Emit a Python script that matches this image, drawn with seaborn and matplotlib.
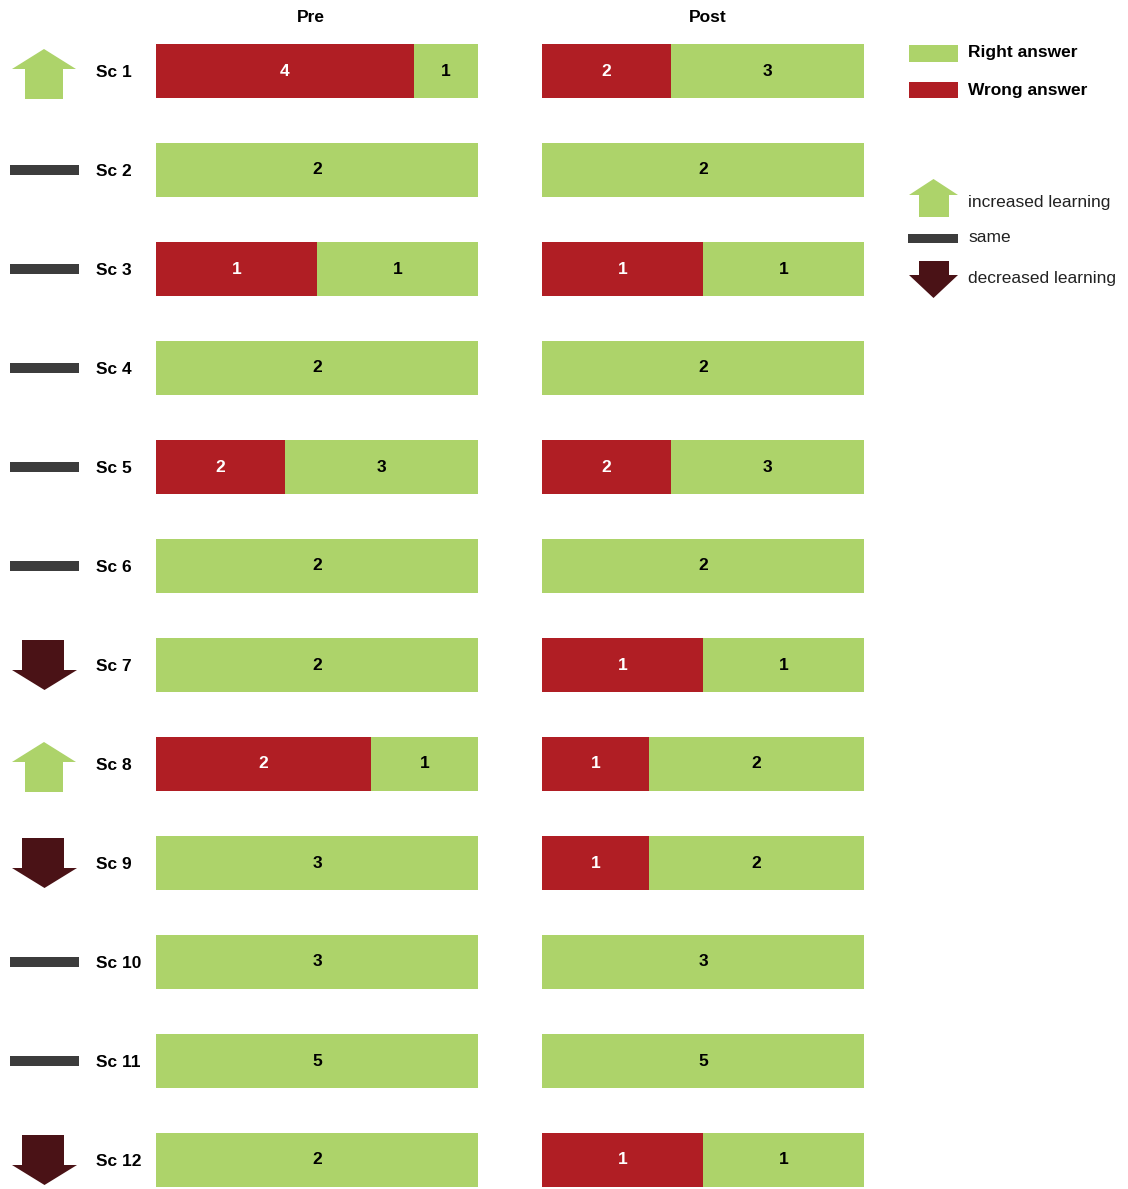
import matplotlib
matplotlib.use("Agg")
import matplotlib.pyplot as plt
from matplotlib.patches import Polygon, Rectangle
import seaborn as sns
import pandas as pd

# ---- data ----
scenarios = ["Sc 1", "Sc 2", "Sc 3", "Sc 4", "Sc 5", "Sc 6",
             "Sc 7", "Sc 8", "Sc 9", "Sc 10", "Sc 11", "Sc 12"]
pre_wrong = [4, 0, 1, 0, 2, 0, 0, 2, 0, 0, 0, 0]
pre_right = [1, 2, 1, 2, 3, 2, 2, 1, 3, 3, 5, 2]
post_wrong = [2, 0, 1, 0, 2, 0, 1, 1, 1, 0, 0, 1]
post_right = [3, 2, 1, 2, 3, 2, 1, 2, 2, 3, 5, 1]
trend = ["up", "same", "same", "same", "same", "same",
         "down", "up", "down", "same", "same", "down"]
panel_titles = ["Pre", "Post"]
legend_answer = ["Right answer", "Wrong answer"]
legend_trend = ["increased learning", "same", "decreased learning"]

# ---- style ----
GREEN = "#ADD36A"
RED = "#B01E24"
DARK = "#4A1216"
GRAY = "#3C3C3C"
W, H = 1128, 1189

sns.set_theme(style="white")
plt.rcParams["font.family"] = ["Liberation Sans", "DejaVu Sans"]
plt.rcParams["text.color"] = "black"
plt.rcParams["ytick.color"] = "black"
plt.rcParams["ytick.labelcolor"] = "black"
FS = 12.5

fig = plt.figure(figsize=(W / 100, H / 100), dpi=100)
fig.patch.set_facecolor("white")

# y range so that row i sits at pixel 71 + 99 i
YLIM = (11 + (H - 1160) / 99, -71 / 99)


def panel(left_px, wrong, right, show_labels):
    ax = fig.add_axes([left_px / W, 0, 322 / W, 1])
    df = pd.DataFrame({"scenario": scenarios, "wrong": wrong, "right": right})
    df["total"] = df["wrong"] + df["right"]
    df["full"] = df["total"] / df["total"]
    df["wfrac"] = df["wrong"] / df["total"]
    sns.barplot(data=df, y="scenario", x="full", order=scenarios, orient="h",
                color=GREEN, saturation=1, width=0.545, errorbar=None,
                linewidth=0, ax=ax)
    sns.barplot(data=df, y="scenario", x="wfrac", order=scenarios, orient="h",
                color=RED, saturation=1, width=0.545, errorbar=None,
                linewidth=0, ax=ax)
    for i, r in df.iterrows():
        if r["wrong"] > 0:
            ax.text(r["wfrac"] / 2, i, str(int(r["wrong"])), ha="center",
                    va="center", color="white", fontsize=FS, fontweight="bold")
        if r["right"] > 0:
            ax.text(r["wfrac"] + (1 - r["wfrac"]) / 2, i, str(int(r["right"])),
                    ha="center", va="center", color="black", fontsize=FS,
                    fontweight="bold")
    ax.set_xlim(0, 1)
    ax.set_ylim(*YLIM)
    ax.set_xlabel("")
    ax.set_ylabel("")
    ax.set_xticks([])
    for s in ax.spines.values():
        s.set_visible(False)
    ax.patch.set_alpha(0)
    if show_labels:
        ax.set_yticks(range(len(scenarios)))
        ax.set_yticklabels(scenarios, fontsize=FS, fontweight="bold",
                           color="black")
        for lbl in ax.get_yticklabels():
            lbl.set_ha("left")
        ax.tick_params(axis="y", length=0, pad=60 * 0.72)
    else:
        ax.set_yticks([])
    return ax


panel(156, pre_wrong, pre_right, True)
panel(542, post_wrong, post_right, False)

fig.text(311 / W, 1 - 17 / H, panel_titles[0], ha="center", va="center",
         fontsize=FS, fontweight="bold", color="black")
fig.text(708 / W, 1 - 17 / H, panel_titles[1], ha="center", va="center",
         fontsize=FS, fontweight="bold", color="black")

# ---- trend arrows (pixel x, row-unit y) ----
aax = fig.add_axes([0, 0, 90 / W, 1])
aax.set_xlim(0, 90)
aax.set_ylim(*YLIM)
aax.axis("off")
u = 1 / 99


def up_arrow(ax, y, top, sh, bot, x0, x1, s0, s1, scale):
    pts = [((x0 + x1) / 2, y + top * scale), (x1, y + sh * scale),
           (s1, y + sh * scale), (s1, y + bot * scale), (s0, y + bot * scale),
           (s0, y + sh * scale), (x0, y + sh * scale)]
    ax.add_patch(Polygon(pts, closed=True, facecolor=GREEN, edgecolor="none"))


def down_arrow(ax, y, top, sh, tip, x0, x1, s0, s1, scale):
    pts = [(s0, y + top * scale), (s1, y + top * scale), (s1, y + sh * scale),
           (x1, y + sh * scale), ((x0 + x1) / 2, y + tip * scale),
           (x0, y + sh * scale), (s0, y + sh * scale)]
    ax.add_patch(Polygon(pts, closed=True, facecolor=DARK, edgecolor="none"))


for i, t in enumerate(trend):
    if t == "up":
        up_arrow(aax, i, -22, -2, 28, 12, 76, 25, 63, u)
    elif t == "down":
        down_arrow(aax, i, -25, 5, 25, 12, 77, 22, 64, u)
    else:
        aax.add_patch(Rectangle((10, i - 5 * u), 69, 10 * u,
                                facecolor=GRAY, edgecolor="none"))

# ---- legend (pixel coords) ----
lax = fig.add_axes([900 / W, 1 - 320 / H, 228 / W, 320 / H])
lax.set_xlim(900, 1128)
lax.set_ylim(320, 0)
lax.axis("off")
lax.add_patch(Rectangle((909, 45), 49, 17, facecolor=GREEN, edgecolor="none"))
lax.add_patch(Rectangle((909, 82), 49, 16, facecolor=RED, edgecolor="none"))
lax.text(968, 53, legend_answer[0], ha="left", va="center", fontsize=FS,
         fontweight="bold", color="black")
lax.text(968, 90, legend_answer[1], ha="left", va="center", fontsize=FS,
         fontweight="bold", color="black")
up_arrow(lax, 0, 179, 195, 217, 909, 958, 919, 949, 1)
lax.add_patch(Rectangle((908, 234), 50, 9, facecolor=GRAY, edgecolor="none"))
down_arrow(lax, 0, 261, 275, 298, 909, 958, 919, 949, 1)
lax.text(968, 203, legend_trend[0], ha="left", va="center", fontsize=FS,
         color="#222222")
lax.text(968, 238, legend_trend[1], ha="left", va="center", fontsize=FS,
         color="#222222")
lax.text(968, 279, legend_trend[2], ha="left", va="center", fontsize=FS,
         color="#222222")

fig.savefig("out.png", dpi=100, facecolor="white")
